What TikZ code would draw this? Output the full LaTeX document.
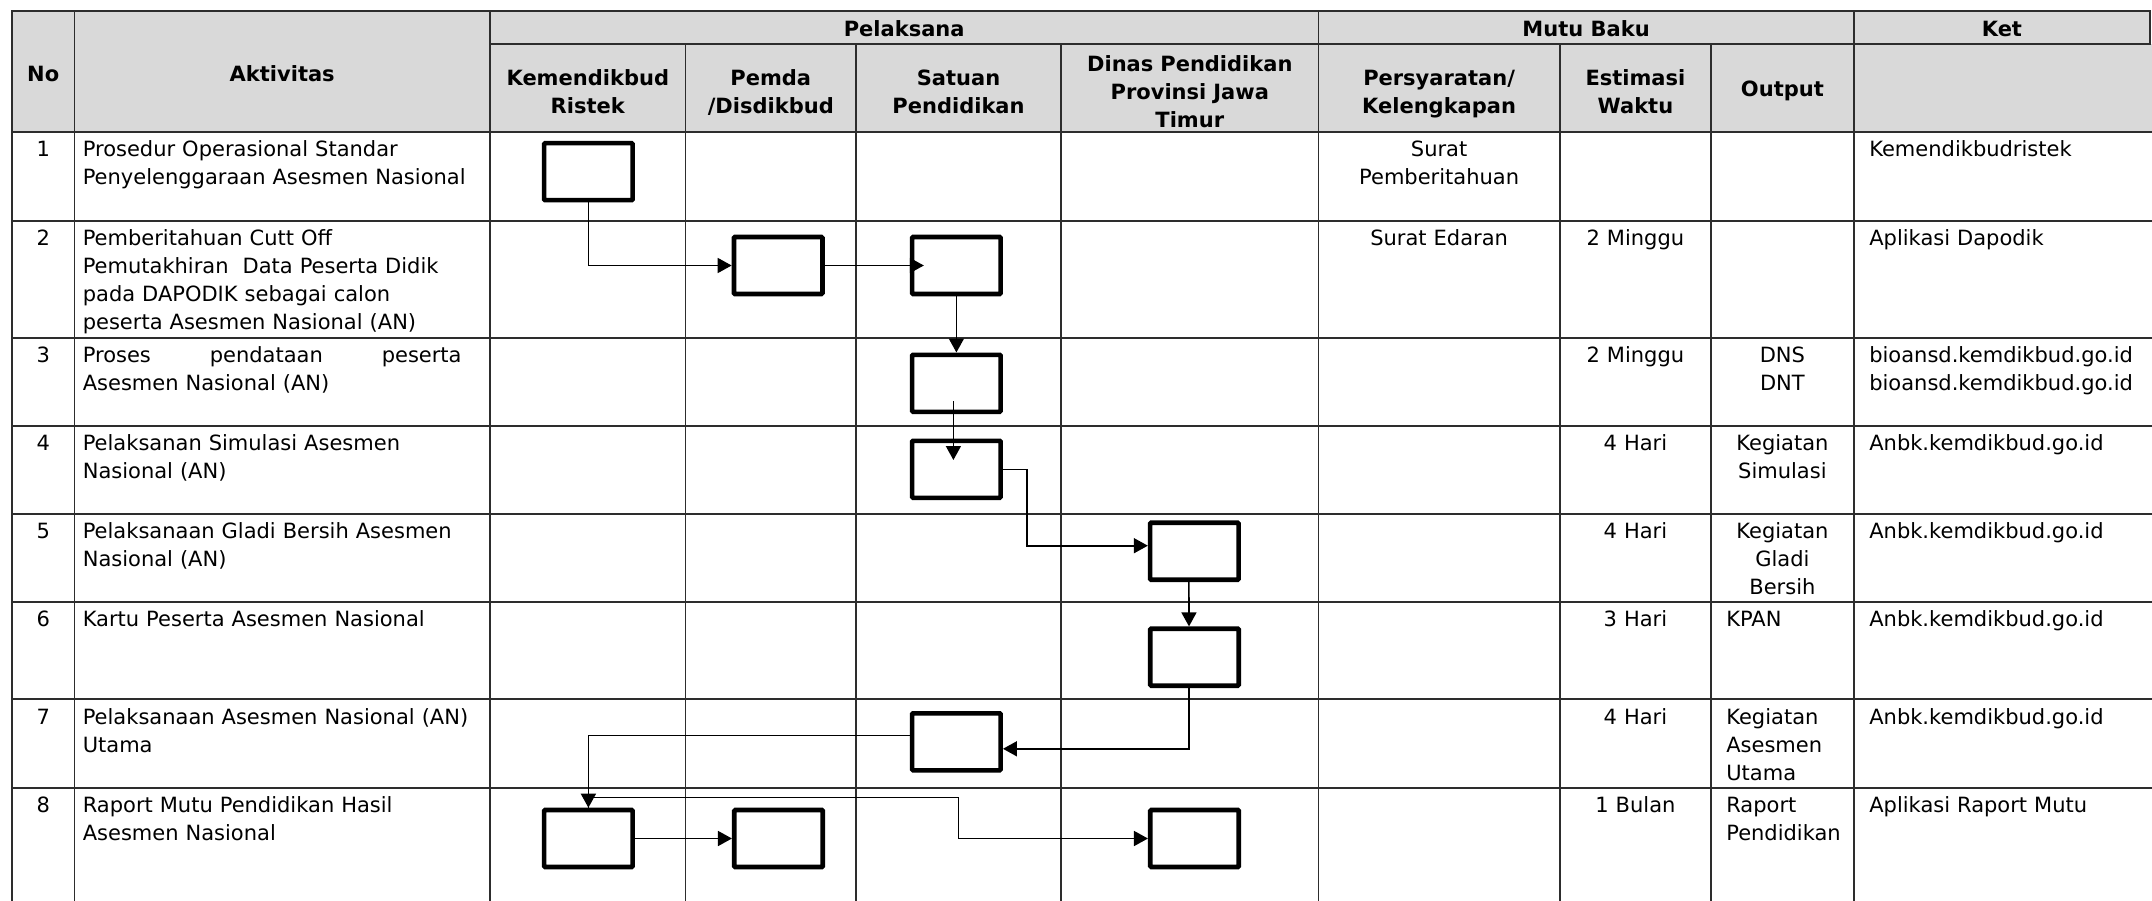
\documentclass[tikz,border=0pt]{standalone}
\usepackage{fontspec}
\setmainfont{DejaVu Sans}
\usetikzlibrary{arrows.meta,calc}
\definecolor{hdrgray}{RGB}{217,217,217}
\definecolor{gridline}{RGB}{45,45,45}

\begin{document}
\begin{tikzpicture}[x=1pt,y=-1pt,
  tabline/.style={draw=gridline, line width=1.8pt, line cap=rect},
  stepbox/.style={draw=black, line width=4.6pt, fill=white, minimum width=88.5pt,
    minimum height=57pt, inner sep=0pt, rounded corners=1pt},
  flow/.style={draw=black, line width=1.6pt, -{Triangle[length=14pt,width=15pt]}},
  txt/.style={inner sep=0pt, font=\fontsize{21pt}{28pt}\selectfont},
  hd/.style={inner sep=0pt, font=\fontsize{21pt}{28pt}\selectfont\bfseries},
  hdc/.style={hd, text width=#1, align=center, anchor=base},
  num/.style={txt, anchor=base},
  act/.style={txt, text width=400pt, align=left, anchor=base west},
  ctr/.style={txt, text width=#1, align=center, anchor=base},
  lft/.style={txt, text width=#1, align=left, anchor=base west}
]
\useasboundingbox (0,0) rectangle (2152,901);

% header shading
\fill[hdrgray] (12,11) rectangle (2150,44.3);
\fill[hdrgray] (12,44.3) rectangle (2152,132.3);

% table rules
\foreach \x in {12,74.4,490,1318.5,1853.7} \draw[tabline] (\x,11) -- (\x,901);
\foreach \x in {685.5,856,1061,1559.7,1711} \draw[tabline] (\x,44.3) -- (\x,901);
\draw[tabline] (2150,11) -- (2150,44.3);
\draw[tabline] (12,11) -- (2150,11);
\draw[tabline] (490,44.3) -- (2150,44.3);
\foreach \y in {132.3,220.7,337.7,426,513.7,601.7,699.3,787.7} \draw[tabline] (12,\y) -- (2152,\y);

% header texts
\node[hd, anchor=base] (hNo) at (43.2,81.7) {No};
\node[hd, anchor=base] (hAkt) at (282.2,81.7) {Aktivitas};
\node[hd, anchor=base] (hPel) at (904.2,36.7) {Pelaksana};
\node[hd, anchor=base] (hMutu) at (1586.1,36.7) {Mutu Baku};
\node[hd, anchor=base] (hKet) at (2001.9,36.7) {Ket};
\node[hdc=185pt] (hKem) at (587.8,85.5) {Kemendikbud\\Ristek};
\node[hdc=165pt] (hPemda) at (770.8,85.5) {Pemda\\/Disdikbud};
\node[hdc=195pt] (hSat) at (958.5,85.5) {Satuan\\Pendidikan};
\node[hdc=250pt] (hDinas) at (1189.8,71.7) {Dinas Pendidikan\\Provinsi Jawa\\Timur};
\node[hdc=235pt] (hPers) at (1439.1,85.5) {Persyaratan/\\Kelengkapan};
\node[hdc=145pt] (hEst) at (1635.4,85.5) {Estimasi\\Waktu};
\node[hd, anchor=base] (hOut) at (1782.4,97) {Output};

% row 1
\node[num] (n1) at (43.2,157.0) {1};
\node[act] (a1) at (82.6,157.0) {Prosedur Operasional Standar\\Penyelenggaraan Asesmen Nasional};
\node[ctr=235pt] (p1) at (1439.1,157.0) {Surat\\Pemberitahuan};
\node[lft=280pt] (k1) at (1869.1,157.0) {Kemendikbudristek};

% row 2
\node[num] (n2) at (43.2,245.4) {2};
\node[act] (a2) at (82.6,245.4) {Pemberitahuan Cutt Off\\Pemutakhiran\ \ Data Peserta Didik\\pada DAPODIK sebagai calon\\peserta Asesmen Nasional (AN)};
\node[ctr=235pt] (p2) at (1439.1,245.4) {Surat Edaran};
\node[ctr=145pt] (e2) at (1635.4,245.4) {2 Minggu};
\node[lft=280pt] (k2) at (1869.1,245.4) {Aplikasi Dapodik};

% row 3 (first line set justified across the cell)
\node[num] (n3) at (43.2,362.4) {3};
\node[act] (a3) at (82.6,362.4) {\makebox[378.8pt][l]{Proses\hfill pendataan\hfill peserta}\\Asesmen Nasional (AN)};
\node[ctr=145pt] (e3) at (1635.4,362.4) {2 Minggu};
\node[ctr=135pt] (o3) at (1782.4,362.4) {DNS\\DNT};
\node[lft=280pt] (k3) at (1869.1,362.4) {bioansd.kemdikbud.go.id\\bioansd.kemdikbud.go.id};

% row 4
\node[num] (n4) at (43.2,450.7) {4};
\node[act] (a4) at (82.6,450.7) {Pelaksanan Simulasi Asesmen\\Nasional (AN)};
\node[ctr=145pt] (e4) at (1635.4,450.7) {4 Hari};
\node[ctr=135pt] (o4) at (1782.4,450.7) {Kegiatan\\Simulasi};
\node[lft=280pt] (k4) at (1869.1,450.7) {Anbk.kemdikbud.go.id};

% row 5
\node[num] (n5) at (43.2,538.4) {5};
\node[act] (a5) at (82.6,538.4) {Pelaksanaan Gladi Bersih Asesmen\\Nasional (AN)};
\node[ctr=145pt] (e5) at (1635.4,538.4) {4 Hari};
\node[ctr=135pt] (o5) at (1782.4,538.4) {Kegiatan\\Gladi\\Bersih};
\node[lft=280pt] (k5t) at (1869.1,538.4) {Anbk.kemdikbud.go.id};

% row 6
\node[num] (n6) at (43.2,626.4) {6};
\node[act] (a6) at (82.6,626.4) {Kartu Peserta Asesmen Nasional};
\node[ctr=145pt] (e6) at (1635.4,626.4) {3 Hari};
\node[lft=125pt] (o6) at (1726.1,626.4) {KPAN};
\node[lft=280pt] (k6) at (1869.1,626.4) {Anbk.kemdikbud.go.id};

% row 7
\node[num] (n7) at (43.2,724.0) {7};
\node[act] (a7) at (82.6,724.0) {Pelaksanaan Asesmen Nasional (AN)\\Utama};
\node[ctr=145pt] (e7) at (1635.4,724.0) {4 Hari};
\node[lft=125pt] (o7) at (1726.1,724.0) {Kegiatan\\Asesmen\\Utama};
\node[lft=280pt] (k7) at (1869.1,724.0) {Anbk.kemdikbud.go.id};

% row 8
\node[num] (n8) at (43.2,812.4) {8};
\node[act] (a8) at (82.6,812.4) {Raport Mutu Pendidikan Hasil\\Asesmen Nasional};
\node[ctr=145pt] (e8) at (1635.4,812.4) {1 Bulan};
\node[lft=125pt] (o8) at (1726.1,812.4) {Raport\\Pendidikan};
\node[lft=280pt] (k8) at (1869.1,812.4) {Aplikasi Raport Mutu};

% process steps
\node[stepbox] (b1) at (588.4,171.7) {};
\node[stepbox] (b2) at (778.2,265.5) {};
\node[stepbox] (b3) at (956.4,265.5) {};
\node[stepbox] (b4) at (956.4,383.3) {};
\node[stepbox] (b5) at (956.4,469.3) {};
\node[stepbox] (b6) at (1194.4,551.2) {};
\node[stepbox] (b7) at (1194.5,657.2) {};
\node[stepbox] (b8) at (956.4,741.8) {};
\node[stepbox] (b9) at (588.4,838.5) {};
\node[stepbox] (b10) at (778.5,838.5) {};
\node[stepbox] (b11) at (1194.5,838.5) {};

% flow connectors
\draw[flow] (b1.south) |- (b2.west);
\draw[flow] (b2.east) -- ([xshift=14pt]b3.west);
\draw[flow] (b3.south) -- (b4.north);
\coordinate (c4a) at ($(b4.center)+(-3,17.7)$);
\coordinate (c4b) at ($(b5.center)+(-3,-9.3)$);
\draw[flow] (c4a) -- (c4b);
\coordinate (k5) at (1027,545.7);
\draw[flow] (b5.east) -| (k5) -- (k5 -| b6.west);
\draw[flow] ([xshift=-5.5pt]b6.south) -- ([xshift=-5.5pt]b7.north);
\draw[flow] ([xshift=-5.5pt]b7.south) |- ([yshift=-7pt]b8.east);
\draw[flow] ([yshift=6.5pt]b8.west) -| (b9.north);
\coordinate (k9) at (958.5,797.3);
\draw[flow] (b9.north) |- (k9) |- (b11.west);
\draw[flow] (b9.east) -- (b10.west);
\end{tikzpicture}
\end{document}
